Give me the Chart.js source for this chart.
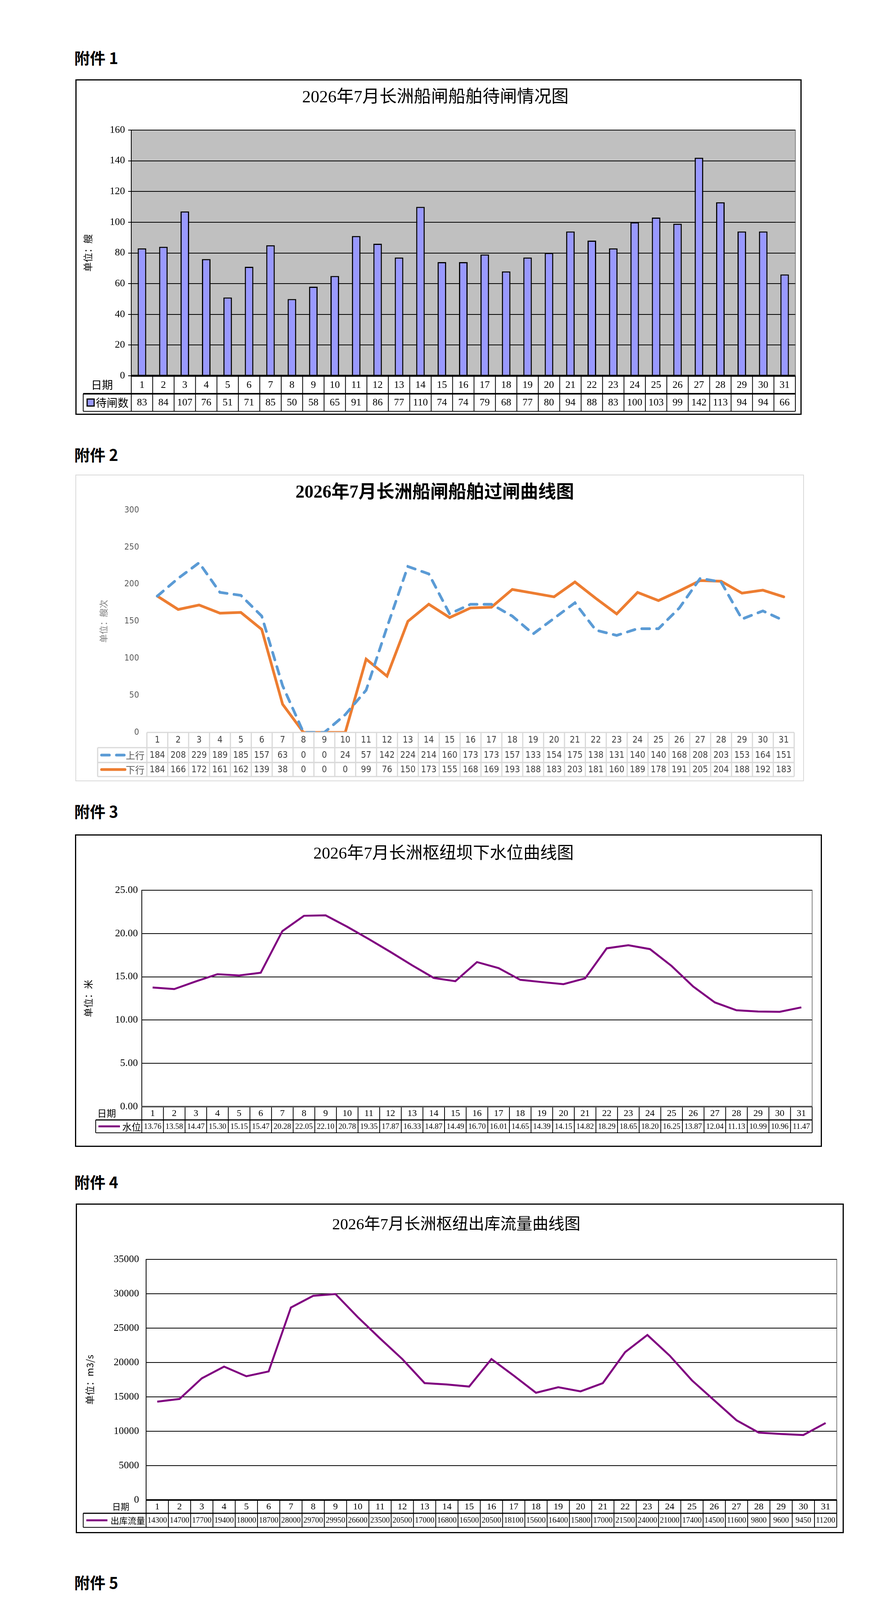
<!DOCTYPE html>
<html>
<head>
<meta charset="utf-8">
<script src="https://cdn.jsdelivr.net/npm/chart.js@4.4.1/dist/chart.umd.min.js"></script>
<style>
  body { margin: 0; background: #fff; }
  #page { position: relative; width: 2245px; height: 6233px; background: #fff; }
  .att { position: absolute; left: 190px; font: bold 40px "Noto Sans CJK SC"; line-height: 48px; color: #000; }
  canvas { position: absolute; }
  .frame { position: absolute; box-sizing: border-box; pointer-events: none; }
</style>
</head>
<body>
<div id="page">
  <div class="att" style="top:123px">附件 1</div>
  <canvas id="c1" width="1859" height="859" style="left:193px;top:203px"></canvas>
  <div class="frame" style="left:193px;top:203px;width:1859px;height:859px;border:3px solid #000"></div>

  <div class="att" style="top:1139px">附件 2</div>
  <canvas id="c2" width="1865" height="785" style="left:193px;top:1215px"></canvas>
  <div class="frame" style="left:193px;top:1215px;width:1865px;height:785px;border:2px solid #d9d9d9"></div>

  <div class="att" style="top:2052px">附件 3</div>
  <canvas id="c3" width="1912" height="800" style="left:192px;top:2136px"></canvas>
  <div class="frame" style="left:192px;top:2136px;width:1912px;height:800px;border:3px solid #000"></div>

  <div class="att" style="top:3001px">附件 4</div>
  <canvas id="c4" width="1966" height="844" style="left:194px;top:3081px"></canvas>
  <div class="frame" style="left:194px;top:3081px;width:1966px;height:844px;border:3px solid #000"></div>

  <div class="att" style="top:4026px">附件 5</div>
  <canvas id="c5" width="1626" height="945" style="left:258px;top:4097px"></canvas>
  <div class="frame" style="left:258px;top:4097px;width:1626px;height:945px;border:2px solid #d9d9d9"></div>

  <div class="att" style="top:5070px">附件 6</div>
  <canvas id="c6" width="1762" height="933" style="left:190px;top:5161px"></canvas>
  <div class="frame" style="left:190px;top:5161px;width:1762px;height:933px;border:2px solid #d9d9d9"></div>
</div>

<script>
// ---- data ----
const days = [1, 2, 3, 4, 5, 6, 7, 8, 9, 10, 11, 12, 13, 14, 15, 16, 17, 18, 19, 20, 21, 22, 23, 24, 25, 26, 27, 28, 29, 30, 31];
const waitCounts = [83, 84, 107, 76, 51, 71, 85, 50, 58, 65, 91, 86, 77, 110, 74, 74, 79, 68, 77, 80, 94, 88, 83, 100, 103, 99, 142, 113, 94, 94, 66];
const upCounts = [184, 208, 229, 189, 185, 157, 63, 0, 0, 24, 57, 142, 224, 214, 160, 173, 173, 157, 133, 154, 175, 138, 131, 140, 140, 168, 208, 203, 153, 164, 151];
const downCounts = [184, 166, 172, 161, 162, 139, 38, 0, 0, 0, 99, 76, 150, 173, 155, 168, 169, 193, 188, 183, 203, 181, 160, 189, 178, 191, 205, 204, 188, 192, 183];
const waterLevel = [13.76, 13.58, 14.47, 15.30, 15.15, 15.47, 20.28, 22.05, 22.10, 20.78, 19.35, 17.87, 16.33, 14.87, 14.49, 16.70, 16.01, 14.65, 14.39, 14.15, 14.82, 18.29, 18.65, 18.20, 16.25, 13.87, 12.04, 11.13, 10.99, 10.96, 11.47];
const outflow = [14300, 14700, 17700, 19400, 18000, 18700, 28000, 29700, 29950, 26600, 23500, 20500, 17000, 16800, 16500, 20500, 18100, 15600, 16400, 15800, 17000, 21500, 24000, 21000, 17400, 14500, 11600, 9800, 9600, 9450, 11200];

const upCargo = ['煤炭', '铁矿石', '粮食', '集装箱', '石油焦', '其他'];
const upTons = [125.18, 63.34, 49.55, 35.63, 12.17, 129.66];
const upPct = [30, 15, 12, 9, 3, 31];
const downCargo = ['碎石', '机制砂', '石灰石', '水泥', '石粉', '集装箱', '钢材', '矿粉', '其他'];
const downTons = [446.58, 194.67, 168.09, 172.81, 109.97, 65.14, 33.41, 26.30, 84.57];
const downPct = [34, 15, 13, 13, 8, 5, 3, 2, 7];

// ---- styles ----
const CJK = '"Noto Sans CJK SC"';
const SERIF = '"Liberation Serif", "Noto Sans CJK SC"';
const NARROW = '"Liberation Sans Narrow", "DejaVu Sans Condensed", "Noto Sans CJK SC"';
const upColors = ['#4d7fe0', '#ff8a2c', '#ffc118', '#7cc144', '#33c6c0', '#f2536c'];
const downColors = ['#4d7fe0', '#ff8a2c', '#ffc118', '#7cc144', '#33c6c0', '#f2536c', '#2b4d9c', '#c25e12', '#9c7b08'];
const upLabelColors = ['#404040', '#404040', '#404040', '#404040', '#404040', '#404040'];
const downLabelColors = ['#8fa4cf', '#c55f18', '#c49600', '#5a9630', '#2aa7a2', '#e3002b', '#333333', '#333333', '#333333'];

Chart.defaults.font.family = CJK;
Chart.defaults.animation = false;

// ---- plugins ----
const plotBg = {
  id: 'plotBg',
  beforeDraw(chart, args, o) {
    const a = chart.chartArea, ctx = chart.ctx;
    ctx.save();
    if (o.color) { ctx.fillStyle = o.color; ctx.fillRect(a.left, a.top, a.width, a.height); }
    if (o.border) { ctx.strokeStyle = o.border; ctx.lineWidth = 2; ctx.strokeRect(a.left, a.top, a.width, a.height); }
    ctx.restore();
  }
};

const dataTable = {
  id: 'dataTable',
  afterDraw(chart, args, o) {
    const ctx = chart.ctx, a = chart.chartArea, xs = chart.scales.x;
    const n = chart.data.labels.length;
    const cw = xs.getPixelForValue(1) - xs.getPixelForValue(0);
    const x0 = xs.getPixelForValue(0) - cw / 2;
    const edge = i => x0 + i * cw;
    const right = edge(n);
    const seg = (x1, y1, x2, y2, w, c) => {
      ctx.beginPath(); ctx.lineWidth = w; ctx.strokeStyle = c || o.lineColor;
      ctx.moveTo(x1, y1); ctx.lineTo(x2, y2); ctx.stroke();
    };
    ctx.save();
    ctx.textBaseline = 'middle';
    let y = a.bottom;
    const h0 = o.rowHeights[0];
    for (let i = 0; i <= n; i++) seg(edge(i), y, edge(i), y + h0, o.lineWidth);
    ctx.fillStyle = o.textColor; ctx.font = o.headFont; ctx.textAlign = 'center';
    chart.data.labels.forEach((lab, i) => ctx.fillText(String(lab), edge(i) + cw / 2, y + h0 / 2 + 1));
    if (o.headLabel) { ctx.font = o.labelFont; ctx.fillText(o.headLabel, o.headLabelX, y + h0 / 2); }
    y += h0;
    chart.data.datasets.forEach((ds, r) => {
      const h = o.rowHeights[r + 1];
      seg(o.legendLeft, y, right, y, r === 0 ? o.sepWidth : o.lineWidth);
      seg(o.legendLeft, y, o.legendLeft, y + h, o.lineWidth);
      for (let i = 0; i <= n; i++) seg(edge(i), y, edge(i), y + h, o.lineWidth);
      ctx.font = o.valueFont; ctx.fillStyle = o.textColor; ctx.textAlign = 'center';
      ds.data.forEach((v, i) => ctx.fillText(o.format(v), edge(i) + cw / 2, y + h / 2 + 1));
      const my = y + h / 2;
      if (o.key === 'square') {
        ctx.fillStyle = ds.backgroundColor;
        ctx.fillRect(o.legendLeft + 10, my - 9, 18, 18);
        ctx.lineWidth = 3; ctx.strokeStyle = '#000';
        ctx.strokeRect(o.legendLeft + 10, my - 9, 18, 18);
      } else {
        ctx.save();
        ctx.strokeStyle = ds.borderColor; ctx.lineWidth = ds.borderWidth;
        ctx.lineCap = ds.borderCapStyle || 'butt';
        ctx.setLineDash(ds.borderDash || []);
        ctx.beginPath(); ctx.moveTo(o.legendLeft + o.keyFrom, my); ctx.lineTo(o.legendLeft + o.keyTo, my); ctx.stroke();
        ctx.restore();
      }
      ctx.font = o.labelFont; ctx.fillStyle = o.labelColor || o.textColor; ctx.textAlign = o.labelAlign;
      ctx.fillText(ds.label, o.labelAlign === 'right' ? a.left - 6 : o.legendLeft + o.labelX, my + 1);
      y += h;
      seg(o.legendLeft, y, right, y, o.lineWidth);
    });
    seg(edge(0), a.bottom, right, a.bottom, o.topWidth, o.topColor);
    ctx.restore();
  }
};

function shade(hex, f) {
  const v = parseInt(hex.slice(1), 16);
  const r = Math.round(((v >> 16) & 255) * f), g = Math.round(((v >> 8) & 255) * f), b = Math.round((v & 255) * f);
  return `rgb(${r},${g},${b})`;
}

// flattens the library's pie into a tilted disc and adds the side wall
const pie3d = {
  id: 'pie3d',
  beforeDatasetsDraw(chart, args, o) {
    const ctx = chart.ctx, arcs = chart.getDatasetMeta(0).data;
    const colors = chart.data.datasets[0].backgroundColor;
    const R = arcs[0].outerRadius, ox = arcs[0].x, oy = arcs[0].y;
    ctx.save();
    arcs.forEach((arc, i) => {
      const s = Math.max(arc.startAngle, 0), e = Math.min(arc.endAngle, Math.PI);
      if (e <= s) return;
      const g = ctx.createLinearGradient(o.cx - o.rx, 0, o.cx + o.rx, 0);
      g.addColorStop(0, shade(colors[i], 0.6));
      g.addColorStop(0.45, shade(colors[i], 0.85));
      g.addColorStop(1, shade(colors[i], 0.38));
      ctx.beginPath();
      ctx.ellipse(o.cx, o.cy, o.rx, o.ry, 0, s, e);
      ctx.ellipse(o.cx, o.cy + o.depth, o.rx, o.ry, 0, e, s, true);
      ctx.closePath();
      ctx.fillStyle = g;
      ctx.fill();
    });
    ctx.translate(o.cx, o.cy);
    ctx.scale(o.rx / R, o.ry / R);
    ctx.translate(-ox, -oy);
  },
  afterDatasetsDraw(chart) {
    chart.ctx.restore();
  }
};

const pieLabels = {
  id: 'pieLabels',
  afterDraw(chart, args, o) {
    const ctx = chart.ctx, arcs = chart.getDatasetMeta(0).data;
    const g = chart.options.plugins.pie3d;
    const labels = chart.data.labels, vals = chart.data.datasets[0].data;
    const items = arcs.map((arc, i) => {
      const m = (arc.startAngle + arc.endAngle) / 2, c = Math.cos(m), s = Math.sin(m);
      const dz = s > 0 ? g.depth * s : 0;
      const ex = g.cx + g.rx * c, ey = g.cy + g.ry * s + dz;
      const align = Math.abs(c) < 0.42 ? 'center' : (c > 0 ? 'left' : 'right');
      return { i, ex, ey, align, side: c >= 0 ? 1 : -1,
        lx: ex + c * o.off, ly: ey + s * o.off * 0.5 + (align === 'center' ? -14 : 0) };
    });
    [1, -1].forEach(side => {
      const grp = items.filter(t => t.side === side && t.align !== 'center').sort((p, q) => p.ly - q.ly);
      for (let k = 1; k < grp.length; k++) {
        if (grp[k].ly < grp[k - 1].ly + o.gap) grp[k].ly = grp[k - 1].ly + o.gap;
      }
    });
    ctx.save();
    ctx.font = `${o.size}px ${CJK}`;
    ctx.textBaseline = 'middle';
    items.forEach(t => {
      ctx.strokeStyle = '#a6a6a6'; ctx.lineWidth = 2;
      ctx.beginPath(); ctx.moveTo(t.ex, t.ey);
      if (t.align === 'center') ctx.lineTo(t.lx, t.ly + o.size * 0.5);
      else ctx.lineTo(t.lx - (t.align === 'left' ? 6 : -6), t.ly);
      ctx.stroke();
      ctx.fillStyle = o.colors[t.i];
      ctx.textAlign = t.align;
      ctx.fillText(`${labels[t.i]}, ${vals[t.i].toFixed(2)}, ${o.pct[t.i]}%`, t.lx, t.ly);
    });
    ctx.restore();
  }
};

// ---- helpers ----
function titleOpts(text, size, bold, center, plotTop) {
  const lh = size * 1.2, top = center - lh / 2;
  return { display: true, text, color: '#000',
    font: { family: SERIF, size, weight: bold ? 'bold' : 'normal', lineHeight: 1.2 },
    padding: { top, bottom: plotTop - top - lh } };
}

function yAxis(o) {
  const ts = o.titleSize || 24;
  return {
    min: o.min, max: o.max,
    ticks: { stepSize: o.step, color: o.tickColor || '#000', padding: o.tickPad,
      font: { family: o.tickFamily || SERIF, size: o.tickSize || 26 },
      callback: v => o.dec ? v.toFixed(o.dec) : String(v) },
    grid: { display: o.grid !== false, color: '#000', lineWidth: 2, drawTicks: !!o.tickLen,
      tickLength: o.tickLen || 0, tickColor: '#000' },
    border: { display: o.grid !== false, color: '#000', width: 2 },
    title: { display: true, text: o.title, color: o.titleColor || '#000',
      font: { family: CJK, size: ts, lineHeight: 1.2 }, padding: { top: o.titleX - ts * 0.6, bottom: 0 } },
    afterFit: s => { s.width = o.width; }
  };
}

function base(w, h, plot) {
  return { responsive: false, animation: false, devicePixelRatio: 1,
    layout: { padding: { left: 0, top: 0, right: w - plot.r, bottom: h - plot.b } } };
}

// ---- chart 1: waiting ships ----
new Chart(document.getElementById('c1'), {
  type: 'bar',
  data: { labels: days, datasets: [{ label: '待闸数', data: waitCounts, backgroundColor: '#9999ff',
    borderColor: '#000', borderWidth: 3, barPercentage: 0.4, categoryPercentage: 1 }] },
  options: Object.assign(base(1859, 859, { r: 1843, b: 759 }), {
    scales: {
      x: { display: false, offset: true },
      y: yAxis({ min: 0, max: 160, step: 20, width: 143, tickLen: 8, tickPad: 8, title: '单位：艘', titleX: 32 })
    },
    plugins: {
      legend: { display: false }, tooltip: { enabled: false },
      title: titleOpts('2026年7月长洲船闸船舶待闸情况图', 44, false, 47, 130),
      plotBg: { color: '#c0c0c0', border: '#808080' },
      dataTable: { rowHeights: [46, 45], legendLeft: 20, lineColor: '#000', lineWidth: 2, sepWidth: 4,
        topWidth: 5, topColor: '#000', textColor: '#000',
        headFont: `26px ${SERIF}`, valueFont: `26px ${SERIF}`, labelFont: `28px ${CJK}`,
        headLabel: '日期', headLabelX: 68, key: 'square', labelAlign: 'left', labelX: 32,
        format: v => String(v) }
    }
  }),
  plugins: [plotBg, dataTable]
});

// ---- chart 2: ships through the lock ----
new Chart(document.getElementById('c2'), {
  type: 'line',
  data: { labels: days, datasets: [
    { label: '上行', data: upCounts, borderColor: '#5b9bd5', borderWidth: 7, borderDash: [20, 18],
      borderCapStyle: 'round', pointRadius: 0, tension: 0 },
    { label: '下行', data: downCounts, borderColor: '#ed7d31', borderWidth: 7, borderCapStyle: 'round',
      pointRadius: 0, tension: 0 }
  ] },
  options: Object.assign(base(1865, 785, { r: 1840, b: 660 }), {
    scales: {
      x: { display: false, offset: true },
      y: yAxis({ min: 0, max: 300, step: 50, width: 183, grid: false, tickPad: 20, tickColor: '#595959',
        tickFamily: NARROW, tickSize: 22, title: '单位：艘次', titleColor: '#808080', titleX: 72, titleSize: 22 })
    },
    plugins: {
      legend: { display: false }, tooltip: { enabled: false },
      title: titleOpts('2026年7月长洲船闸船舶过闸曲线图', 46, true, 47, 91),
      dataTable: { rowHeights: [39, 38, 36], legendLeft: 57, lineColor: '#d9d9d9', lineWidth: 3, sepWidth: 3,
        topWidth: 3, topColor: '#d9d9d9', textColor: '#404040', labelColor: '#595959',
        headFont: `23px ${NARROW}`, valueFont: `23px ${NARROW}`, labelFont: `24px ${CJK}`,
        key: 'line', keyFrom: 10, keyTo: 70, labelAlign: 'right', format: v => String(v) }
    }
  }),
  plugins: [dataTable]
});

// ---- chart 3: downstream water level ----
new Chart(document.getElementById('c3'), {
  type: 'line',
  data: { labels: days, datasets: [{ label: '水位', data: waterLevel, borderColor: '#800080', borderWidth: 5,
    pointRadius: 0, tension: 0 }] },
  options: Object.assign(base(1912, 800, { r: 1887, b: 697 }), {
    scales: {
      x: { display: false, offset: true },
      y: yAxis({ min: 0, max: 25, step: 5, dec: 2, width: 171, tickPad: 10, title: '单位：米', titleX: 34 })
    },
    plugins: {
      legend: { display: false }, tooltip: { enabled: false },
      title: titleOpts('2026年7月长洲枢纽坝下水位曲线图', 43, false, 51, 143),
      plotBg: { border: '#808080' },
      dataTable: { rowHeights: [34, 33], legendLeft: 53, lineColor: '#000', lineWidth: 2, sepWidth: 3,
        topWidth: 4, topColor: '#555', textColor: '#000',
        headFont: `24px ${SERIF}`, valueFont: `20px ${SERIF}`, labelFont: `24px ${CJK}`,
        headLabel: '日期', headLabelX: 81, key: 'line', keyFrom: 7, keyTo: 62, labelAlign: 'left', labelX: 68,
        format: v => v.toFixed(2) }
    }
  }),
  plugins: [plotBg, dataTable]
});

// ---- chart 4: outflow ----
new Chart(document.getElementById('c4'), {
  type: 'line',
  data: { labels: days, datasets: [{ label: '出库流量', data: outflow, borderColor: '#800080', borderWidth: 5,
    pointRadius: 0, tension: 0 }] },
  options: Object.assign(base(1966, 844, { r: 1948, b: 759 }), {
    scales: {
      x: { display: false, offset: true },
      y: yAxis({ min: 0, max: 35000, step: 5000, width: 180, tickPad: 18, title: '单位：m3/s', titleX: 36 })
    },
    plugins: {
      legend: { display: false }, tooltip: { enabled: false },
      title: titleOpts('2026年7月长洲枢纽出库流量曲线图', 41, false, 55, 143),
      plotBg: { border: '#808080' },
      dataTable: { rowHeights: [34, 36], legendLeft: 19, lineColor: '#000', lineWidth: 2, sepWidth: 3,
        topWidth: 4, topColor: '#000', textColor: '#000',
        headFont: `24px ${SERIF}`, valueFont: `20px ${SERIF}`, labelFont: `22px ${CJK}`,
        headLabel: '日期', headLabelX: 115, key: 'line', keyFrom: 8, keyTo: 62, labelAlign: 'left', labelX: 70,
        format: v => String(v) }
    }
  }),
  plugins: [plotBg, dataTable]
});

// ---- pies ----
function pieChart(id, title, labels, values, colors, labelColors, pct, geo) {
  return new Chart(document.getElementById(id), {
    type: 'pie',
    data: { labels, datasets: [{ data: values, backgroundColor: colors, borderWidth: 0, hoverOffset: 0, clip: false }] },
    options: {
      responsive: false, animation: false, devicePixelRatio: 1, rotation: 90,
      layout: { padding: { left: 40, right: 40, top: 0, bottom: 150 } },
      plugins: {
        tooltip: { enabled: false },
        title: { display: true, text: [title, '（单位：万吨）'], color: '#000',
          font: { family: CJK, size: 52, weight: 'bold', lineHeight: 1.3 },
          padding: { top: geo.titleTop, bottom: geo.titleGap } },
        legend: { position: 'top',
          labels: { color: '#595959', font: { family: CJK, size: 31 }, boxWidth: 22, boxHeight: 22, padding: 38 } },
        pie3d: { cx: geo.cx, cy: geo.cy, rx: geo.rx, ry: geo.ry, depth: geo.depth },
        pieLabels: { colors: labelColors, pct, size: 30, off: 60, gap: 36 }
      }
    },
    plugins: [pie3d, pieLabels]
  });
}

pieChart('c5', '2026年7月长洲船闸上行过闸货种饼状图', upCargo, upTons, upColors, upLabelColors, upPct,
  { titleTop: 22, titleGap: 5, cx: 815, cy: 528, rx: 360, ry: 206, depth: 99 });
pieChart('c6', '2026年7月长洲船闸下行过闸货种饼状图', downCargo, downTons, downColors, downLabelColors, downPct,
  { titleTop: 18, titleGap: 13, cx: 879, cy: 472, rx: 368, ry: 164, depth: 119 });
</script>
</body>
</html>
